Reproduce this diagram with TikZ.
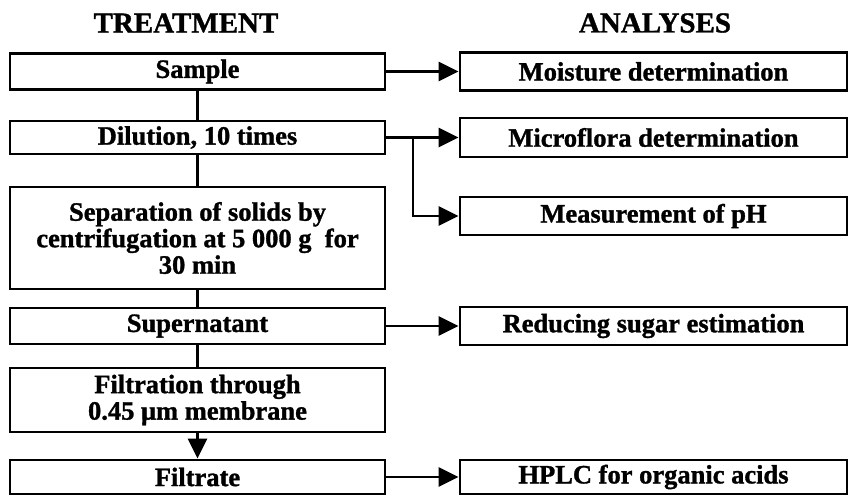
\documentclass[tikz,border=0pt]{standalone}
\usepackage{fontspec}
\setmainfont[BoldFeatures={FakeBold=1.2}]{Liberation Serif}
\usetikzlibrary{arrows.meta}

\begin{document}
\begin{tikzpicture}[x=1pt,y={(0pt,-1pt)},  box/.style={draw, line width=2.8pt, inner sep=0pt, align=center, font=\bfseries\fontsize{26.5}{26.5}\selectfont},  treat/.style={box, minimum width=375pt},  anal/.style={box, minimum width=387pt},  head/.style={font=\bfseries\fontsize{29}{29}\selectfont},  edge/.style={line width=2.8pt},  arr/.style={edge, -{Triangle[length=20pt,width=19pt]}}]
\useasboundingbox (0,0) rectangle (849,495);
%%%%%%%%%%%%%%%%%%%%%%%%%%%%%%%%%%%%%%%%%%%%%%%%%%
% treatment
%%%%%%%%%%%%%%%%%%%%%%%%%%%%%%%%%%%%%%%%%%%%%%%%%%
  \node[head] (ht) at (186,23) {TREATMENT};
  \node[treat, minimum height=36pt] (sample) at (197.5,71.5) {\raisebox{-3pt}{Sample}};
  \node[treat, minimum height=33pt] (dil) at (197.5,137.5) {Dilution, 10 times};
  \node[treat, minimum height=102pt] (sep) at (197.5,238) {Separation of solids by\\ centrifugation at 5 000 g~ for\\ 30 min};
  \node[treat, minimum height=36pt] (sup) at (197.5,326) {Supernatant};
  \node[treat, minimum height=64pt] (filt) at (197.5,400) {Filtration through\\ 0.45 μm membrane};
  \node[treat, minimum height=34pt] (filtrate) at (197.5,477) {Filtrate};

  \draw[edge] (sample)--(dil);
  \draw[edge] (dil)--(sep);
  \draw[edge] (sep)--(sup);
  \draw[edge] (sup)--(filt);
  \draw[arr] (filt)--(filtrate);
%%%%%%%%%%%%%%%%%%%%%%%%%%%%%%%%%%%%%%%%%%%%%%%%%%
% analyses
%%%%%%%%%%%%%%%%%%%%%%%%%%%%%%%%%%%%%%%%%%%%%%%%%%
  \node[head] (ha) at (655,23) {ANALYSES};
  \node[anal, minimum height=38pt] (moist) at (653.5,71.5) {Moisture determination};
  \node[anal, minimum height=39pt] (micro) at (653.5,137.5) {Microflora determination};
  \node[anal, minimum height=38pt] (ph) at (653.5,216) {Measurement of pH};
  \node[anal, minimum height=38pt] (sugar) at (653.5,326) {Reducing sugar estimation};
  \node[anal, minimum height=34pt] (hplc) at (653.5,477) {HPLC for organic acids};

  \coordinate (split) at (413,137.5);

  \draw[arr] (sample)--(moist);
  \draw[arr] (dil)--(micro);
  \draw[arr] (split)|-(ph);
  \draw[arr] (sup)--(sugar);
  \draw[arr] (filtrate)--(hplc);
\end{tikzpicture}
\end{document}
